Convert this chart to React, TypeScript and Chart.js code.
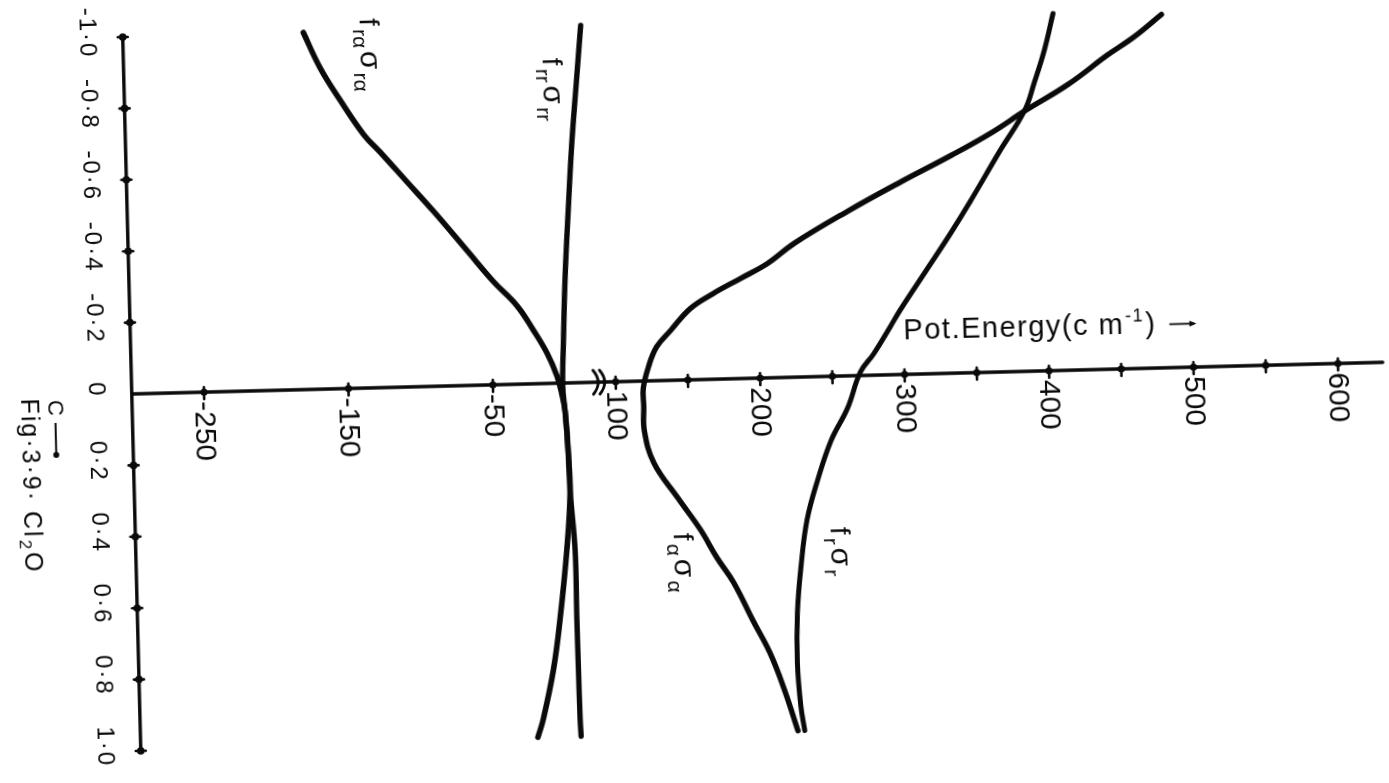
import { useEffect, useRef } from 'react';
import { Chart, registerables } from 'chart.js';

Chart.register(...registerables);

// Potential-energy contributions (cm-1) of Cl2O against the mixing coefficient C.
const cFrAlpha = [-1.0, -0.9, -0.81, -0.71, -0.66, -0.575, -0.49, -0.38, -0.29, -0.22, -0.15, -0.085, -0.02, 0.03, 0.08, 0.19, 0.31, 0.47, 0.66, 0.8, 0.94, 0.99];
const eFrAlpha = [-175, -164, -151, -135, -124, -106, -88, -66, -48, -32, -21, -12, -5.5, -2.5, -0.5, 0.9, 1.5, -1.8, -7.6, -13, -21, -25];

const cFrr = [-1.0, -0.86, -0.67, -0.49, -0.3, -0.11, 0.01, 0.08, 0.19, 0.31, 0.47, 0.66, 0.8, 0.94, 0.99];
const eFrr = [17, 13.5, 8.8, 5.3, 1.9, -0.5, -1.7, -0.5, 0.9, 1.7, 4, 4, 4.2, 4.5, 4.9];

const cFAlpha = [-0.99, -0.93, -0.88, -0.8, -0.73, -0.67, -0.61, -0.54, -0.46, -0.375, -0.32, -0.28, -0.24, -0.2, -0.14, -0.095, -0.04, 0.02, 0.07, 0.14, 0.23, 0.33, 0.42, 0.5, 0.57, 0.68, 0.77, 0.87, 0.99];
const eFAlpha = [484, 465, 446, 418, 388, 364, 336, 301, 263, 226, 207, 188, 169, 153, 139, 129, 123, 119, 119, 119, 125, 141, 156, 167, 178, 191, 202, 211, 220];

const cFr = [-1.0, -0.9, -0.81, -0.73, -0.62, -0.48, -0.39, -0.285, -0.18, -0.135, -0.06, -0.01, 0.09, 0.18, 0.29, 0.4, 0.53, 0.66, 0.8, 0.92, 0.99];
const eFr = [409, 402.5, 395, 387.6, 370, 348.5, 334, 316, 298, 291, 279, 269.5, 260, 248, 238, 230, 225, 221.7, 220.8, 222.4, 224.7];

// Axis ticks and labels
const cTickValues = [-1, -0.8, -0.6, -0.4, -0.2, 0, 0.2, 0.4, 0.6, 0.8, 1];
const cTickLabels = ['-1·0', '-0·8', '-0·6', '-0·4', '-0·2', '0', '0·2', '0·4', '0·6', '0·8', '1·0'];
const eTickMarks = [-250, -150, -50, 100, 150, 200, 250, 300, 350, 400, 450, 500, 550, 600];
const eLabelValues = [-250, -150, -50, 100, 200, 300, 400, 500, 600];
const eLabelTexts = ['-250', '-150', '-50', '100', '200', '300', '400', '500', '600'];

// Curve annotations: [energy, C] of the start of each rotated label
const curveLabelNames = ['frα', 'frr', 'fα', 'fr'];
const curveLabelSubs = ['rα', 'rr', 'α', 'r'];
const curveLabelE = [-135.5, -9.6, 137.6, 245.8];
const curveLabelC = [-1.036, -0.912, 0.428, 0.422];

// The energy axis is broken: the stretch between 35 and 100 cm-1 is cut out.
const BREAK_FROM = 35;
const BREAK_TO = 100;
const E_AXIS_MIN = -300;
const E_AXIS_END = 631;
const toAxis = (e: number) => (e > BREAK_FROM ? e - (BREAK_TO - BREAK_FROM) : e);

const INK = '#0a0a0a';
const FONT = '"Liberation Sans", Arial, sans-serif';

type Part = { t: string; shift?: number; size: number };

function drawParts(ctx: CanvasRenderingContext2D, parts: Part[], x: number, y: number, rotate: boolean, gap: number) {
  ctx.save();
  ctx.translate(x, y);
  if (rotate) ctx.rotate(Math.PI / 2);
  ctx.textAlign = 'left';
  ctx.textBaseline = 'alphabetic';
  let cx = 0;
  for (const p of parts) {
    ctx.font = `${p.size}px ${FONT}`;
    ctx.fillText(p.t, cx, p.shift || 0);
    cx += ctx.measureText(p.t).width + gap;
  }
  ctx.restore();
}

function rotatedText(ctx: CanvasRenderingContext2D, text: string, x: number, y: number, font: string, align: CanvasTextAlign, spacing: number) {
  ctx.save();
  ctx.translate(x, y);
  ctx.rotate(Math.PI / 2);
  ctx.font = font;
  (ctx as any).letterSpacing = `${spacing}px`;
  ctx.textAlign = align;
  ctx.textBaseline = 'middle';
  ctx.fillText(text, 0, 0);
  ctx.restore();
}

const handAxes = {
  id: 'handAxes',
  beforeDatasetsDraw(chart: any) {
    const { ctx } = chart;
    const x = chart.scales.x;
    const y = chart.scales.y;
    const x0 = x.getPixelForValue(E_AXIS_MIN);
    const y0 = y.getPixelForValue(0);
    ctx.save();
    ctx.strokeStyle = INK;
    ctx.fillStyle = INK;
    ctx.lineCap = 'round';
    ctx.lineWidth = 3.4;
    ctx.beginPath();
    ctx.moveTo(x0, y.getPixelForValue(-1));
    ctx.lineTo(x0, y.getPixelForValue(1));
    ctx.moveTo(x0, y0);
    ctx.lineTo(x.getPixelForValue(toAxis(E_AXIS_END)), y0);
    ctx.stroke();

    ctx.lineWidth = 2.6;
    for (const c of cTickValues) {
      if (c === 0) continue;
      const py = y.getPixelForValue(c);
      ctx.beginPath();
      ctx.arc(x0, py, 3.8, 0, Math.PI * 2);
      ctx.fill();
      ctx.beginPath();
      ctx.moveTo(x0 - 5, py);
      ctx.lineTo(x0 + 5, py);
      ctx.stroke();
    }
    for (const e of eTickMarks) {
      const px = x.getPixelForValue(toAxis(e));
      ctx.beginPath();
      ctx.arc(px, y0, 3.6, 0, Math.PI * 2);
      ctx.fill();
      ctx.beginPath();
      ctx.moveTo(px, y0 - 5);
      ctx.lineTo(px, y0 + 7);
      ctx.stroke();
    }

    // break marks on the energy axis
    ctx.lineWidth = 2.8;
    for (const b of [BREAK_FROM - 13.5, BREAK_FROM - 9]) {
      const px = x.getPixelForValue(b);
      ctx.beginPath();
      ctx.moveTo(px - 3, y0 - 12);
      ctx.quadraticCurveTo(px + 7, y0, px - 3, y0 + 12);
      ctx.stroke();
    }
    ctx.restore();
  },
  afterDatasetsDraw(chart: any) {
    const { ctx } = chart;
    const x = chart.scales.x;
    const y = chart.scales.y;
    const x0 = x.getPixelForValue(E_AXIS_MIN);
    const y0 = y.getPixelForValue(0);
    ctx.save();
    ctx.fillStyle = INK;
    ctx.strokeStyle = INK;

    // C axis labels
    cTickValues.forEach((c, i) => {
      rotatedText(ctx, cTickLabels[i], x0 - 36, y.getPixelForValue(c) - 5, `24px ${FONT}`, 'center', 2);
    });

    // energy axis labels
    eLabelValues.forEach((e, i) => {
      rotatedText(ctx, eLabelTexts[i], x.getPixelForValue(toAxis(e)) - 1, y0 + 9, `30px ${FONT}`, 'left', 0);
    });

    // axis title
    const tx = x.getPixelForValue(toAxis(300));
    const ty = y0 - 35.5;
    (ctx as any).letterSpacing = '1.5px';
    drawParts(ctx, [
      { t: 'Pot.Energy(c m', size: 29 },
      { t: '-1', size: 18, shift: -12 },
      { t: ')', size: 29 },
    ], tx, ty, false, 1);
    (ctx as any).letterSpacing = '0px';
    ctx.lineWidth = 1.8;
    ctx.beginPath();
    ctx.moveTo(tx + 266, ty - 8);
    ctx.lineTo(tx + 291, ty - 8);
    ctx.stroke();
    ctx.beginPath();
    ctx.moveTo(tx + 293, ty - 8);
    ctx.lineTo(tx + 286, ty - 11);
    ctx.lineTo(tx + 286, ty - 5);
    ctx.closePath();
    ctx.fill();

    // curve annotations
    curveLabelNames.forEach((_, i) => {
      const lx = x.getPixelForValue(toAxis(curveLabelE[i]));
      const ly = y.getPixelForValue(curveLabelC[i]);
      drawParts(ctx, [
        { t: 'f', size: 28 },
        { t: curveLabelSubs[i], size: 21, shift: 7 },
        { t: 'σ', size: 30 },
        { t: curveLabelSubs[i], size: 21, shift: 7 },
      ], lx, ly, true, 3);
    });

    // caption
    drawParts(ctx, [{ t: 'C', size: 22 }], x0 - 84, y0 + 4, true, 0);
    ctx.lineWidth = 2;
    ctx.beginPath();
    ctx.moveTo(x0 - 77, y0 + 27);
    ctx.lineTo(x0 - 77, y0 + 58);
    ctx.stroke();
    ctx.beginPath();
    ctx.arc(x0 - 77, y0 + 59, 3, 0, Math.PI * 2);
    ctx.fill();
    (ctx as any).letterSpacing = '2px';
    drawParts(ctx, [
      { t: 'Fig·3·9· Cl', size: 25 },
      { t: '2', size: 17, shift: 5 },
      { t: 'O', size: 25 },
    ], x0 - 111, y0 + 2, true, 1);
    (ctx as any).letterSpacing = '0px';
    ctx.restore();
  },
};

const seriesC = [cFrAlpha, cFrr, cFAlpha, cFr];
const seriesE = [eFrAlpha, eFrr, eFAlpha, eFr];
const seriesWidth = [5.6, 5.4, 5.4, 5];

export default function App() {
  const ref = useRef<HTMLCanvasElement>(null);

  useEffect(() => {
    document.body.style.margin = '0';
    const canvas = ref.current;
    if (!canvas) return;
    const chart = new Chart(canvas, {
      type: 'scatter',
      data: {
        datasets: seriesC.map((cs, i) => ({
          label: curveLabelNames[i],
          data: cs.map((c, j) => ({ x: toAxis(seriesE[i][j]), y: c })),
          showLine: true,
          borderColor: INK,
          backgroundColor: INK,
          borderWidth: seriesWidth[i],
          pointRadius: 0,
          pointHoverRadius: 0,
          tension: 0.4,
          fill: false,
          clip: false,
          borderCapStyle: 'round',
          borderJoinStyle: 'round',
        })),
      },
      options: {
        responsive: false,
        animation: false,
        devicePixelRatio: 1,
        events: [],
        layout: { padding: { left: 131.8, right: 0.8, top: 37, bottom: 32 } },
        scales: {
          x: { type: 'linear', min: E_AXIS_MIN, max: 569.5, display: false },
          y: { type: 'linear', min: -1, max: 1, reverse: true, display: false },
        },
        plugins: { legend: { display: false }, tooltip: { enabled: false } },
      } as any,
      plugins: [handAxes],
    });
    return () => chart.destroy();
  }, []);

  return (
    <div style={{ position: 'fixed', left: 0, top: 0, width: 1389, height: 783, overflow: 'hidden', background: '#fff' }}>
      <canvas
        ref={ref}
        width={1389}
        height={783}
        style={{ display: 'block', width: 1389, height: 783, transform: 'rotate(-1.45deg)', transformOrigin: '131px 395px' }}
      />
    </div>
  );
}
